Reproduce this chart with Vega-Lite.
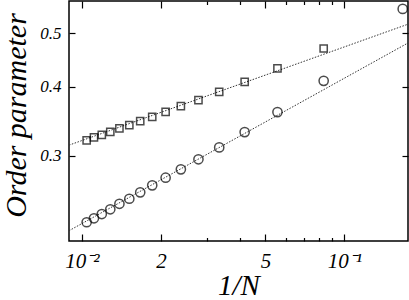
{
  "$schema": "https://vega.github.io/schema/vega-lite/v6.json",
  "width": 339,
  "height": 240,
  "autosize": {"type": "none"},
  "padding": {"left": 69, "top": 1, "right": 1, "bottom": 59},
  "background": "white",
  "config": {
    "view": {"stroke": "black", "strokeWidth": 1.5},
    "axis": {
      "domain": false,
      "grid": false,
      "tickColor": "black",
      "tickWidth": 1.2,
      "labelFont": "Liberation Serif",
      "labelFontStyle": "italic",
      "labelColor": "black",
      "titleFont": "Liberation Serif",
      "titleFontStyle": "italic",
      "titleFontWeight": "normal",
      "titleColor": "black"
    }
  },
  "datasets": {
    "pts": [
      {"invN": 0.01042, "op": 0.3200, "series": "square"},
      {"invN": 0.01111, "op": 0.3240, "series": "square"},
      {"invN": 0.01190, "op": 0.3275, "series": "square"},
      {"invN": 0.01282, "op": 0.3316, "series": "square"},
      {"invN": 0.01389, "op": 0.3363, "series": "square"},
      {"invN": 0.01515, "op": 0.3410, "series": "square"},
      {"invN": 0.01667, "op": 0.3467, "series": "square"},
      {"invN": 0.01852, "op": 0.3530, "series": "square"},
      {"invN": 0.02083, "op": 0.3604, "series": "square"},
      {"invN": 0.02381, "op": 0.3691, "series": "square"},
      {"invN": 0.02778, "op": 0.3784, "series": "square"},
      {"invN": 0.03333, "op": 0.3918, "series": "square"},
      {"invN": 0.04167, "op": 0.4084, "series": "square"},
      {"invN": 0.05556, "op": 0.4318, "series": "square"},
      {"invN": 0.08333, "op": 0.4693, "series": "square"},
      {"invN": 0.01042, "op": 0.2275, "series": "circle"},
      {"invN": 0.01111, "op": 0.2313, "series": "circle"},
      {"invN": 0.01190, "op": 0.2354, "series": "circle"},
      {"invN": 0.01282, "op": 0.2401, "series": "circle"},
      {"invN": 0.01389, "op": 0.2457, "series": "circle"},
      {"invN": 0.01515, "op": 0.2509, "series": "circle"},
      {"invN": 0.01667, "op": 0.2577, "series": "circle"},
      {"invN": 0.01852, "op": 0.2653, "series": "circle"},
      {"invN": 0.02083, "op": 0.2739, "series": "circle"},
      {"invN": 0.02381, "op": 0.2836, "series": "circle"},
      {"invN": 0.02778, "op": 0.2957, "series": "circle"},
      {"invN": 0.03333, "op": 0.3108, "series": "circle"},
      {"invN": 0.04167, "op": 0.3312, "series": "circle"},
      {"invN": 0.05556, "op": 0.3600, "series": "circle"},
      {"invN": 0.08333, "op": 0.4101, "series": "circle"},
      {"invN": 0.16667, "op": 0.5535, "series": "circle"}
    ],
    "fits": [
      {"invN": 0.008925, "op": 0.3137, "series": "square"},
      {"invN": 0.1746, "op": 0.5193, "series": "square"},
      {"invN": 0.008925, "op": 0.2196, "series": "circle"},
      {"invN": 0.1746, "op": 0.4802, "series": "circle"}
    ]
  },
  "resolve": {"axis": {"x": "independent", "y": "independent"}},
  "layer": [
    {
      "data": {"name": "fits"},
      "transform": [{"filter": "datum.series == 'square'"}],
      "mark": {"type": "line", "stroke": "#333333", "strokeWidth": 1, "strokeDash": [1.5, 1.5], "clip": true},
      "encoding": {
        "x": {
          "field": "invN", "type": "quantitative",
          "scale": {"type": "log", "domain": [0.008925, 0.1746], "nice": false, "zero": false},
          "axis": {
            "orient": "bottom", "values": [0.01, 0.02, 0.05, 0.1], "tickSize": -7,
            "labelFontSize": 21, "labelPadding": 16,
            "labelExpr": "datum.value < 0.011 ? '10⁻²' : abs(datum.value - 0.02) < 0.001 ? '2' : abs(datum.value - 0.05) < 0.001 ? '5' : '10⁻¹'",
            "title": "1/N", "titleFontSize": 29, "titlePadding": 0
          }
        },
        "y": {
          "field": "op", "type": "quantitative",
          "scale": {"type": "log", "domain": [0.2104, 0.572], "nice": false, "zero": false},
          "axis": {
            "orient": "left", "values": [0.3, 0.4, 0.5], "tickSize": -6,
            "labelFontSize": 17, "labelPadding": 14, "format": ".1f",
            "title": "Order parameter", "titleFontSize": 30, "titlePadding": 8, "titleY": 114
          }
        }
      }
    },
    {
      "data": {"name": "fits"},
      "transform": [{"filter": "datum.series == 'circle'"}],
      "mark": {"type": "line", "stroke": "#333333", "strokeWidth": 1, "strokeDash": [1.5, 1.5], "clip": true},
      "encoding": {
        "x": {
          "field": "invN", "type": "quantitative",
          "axis": {"orient": "top", "values": [0.01, 0.02, 0.05, 0.1], "tickSize": -7, "labels": false, "title": null}
        },
        "y": {
          "field": "op", "type": "quantitative",
          "axis": {"orient": "right", "values": [0.3, 0.4, 0.5], "tickSize": -6, "labels": false, "title": null}
        }
      }
    },
    {
      "data": {"name": "pts"},
      "transform": [{"filter": "datum.series == 'square'"}],
      "mark": {"type": "point", "shape": "square", "filled": false, "stroke": "black", "strokeWidth": 1.5, "size": 52},
      "encoding": {
        "x": {
          "field": "invN", "type": "quantitative",
          "axis": {"orient": "bottom", "values": [0.03, 0.04, 0.06, 0.07, 0.08, 0.09], "tickSize": -3.5, "labels": false, "title": null}
        },
        "y": {"field": "op", "type": "quantitative", "axis": null}
      }
    },
    {
      "data": {"name": "pts"},
      "transform": [{"filter": "datum.series == 'circle'"}],
      "mark": {"type": "point", "shape": "circle", "filled": false, "stroke": "black", "strokeWidth": 1.5, "size": 85},
      "encoding": {
        "x": {
          "field": "invN", "type": "quantitative",
          "axis": {"orient": "top", "values": [0.03, 0.04, 0.06, 0.07, 0.08, 0.09], "tickSize": -3.5, "labels": false, "title": null}
        },
        "y": {"field": "op", "type": "quantitative", "axis": null}
      }
    }
  ]
}
